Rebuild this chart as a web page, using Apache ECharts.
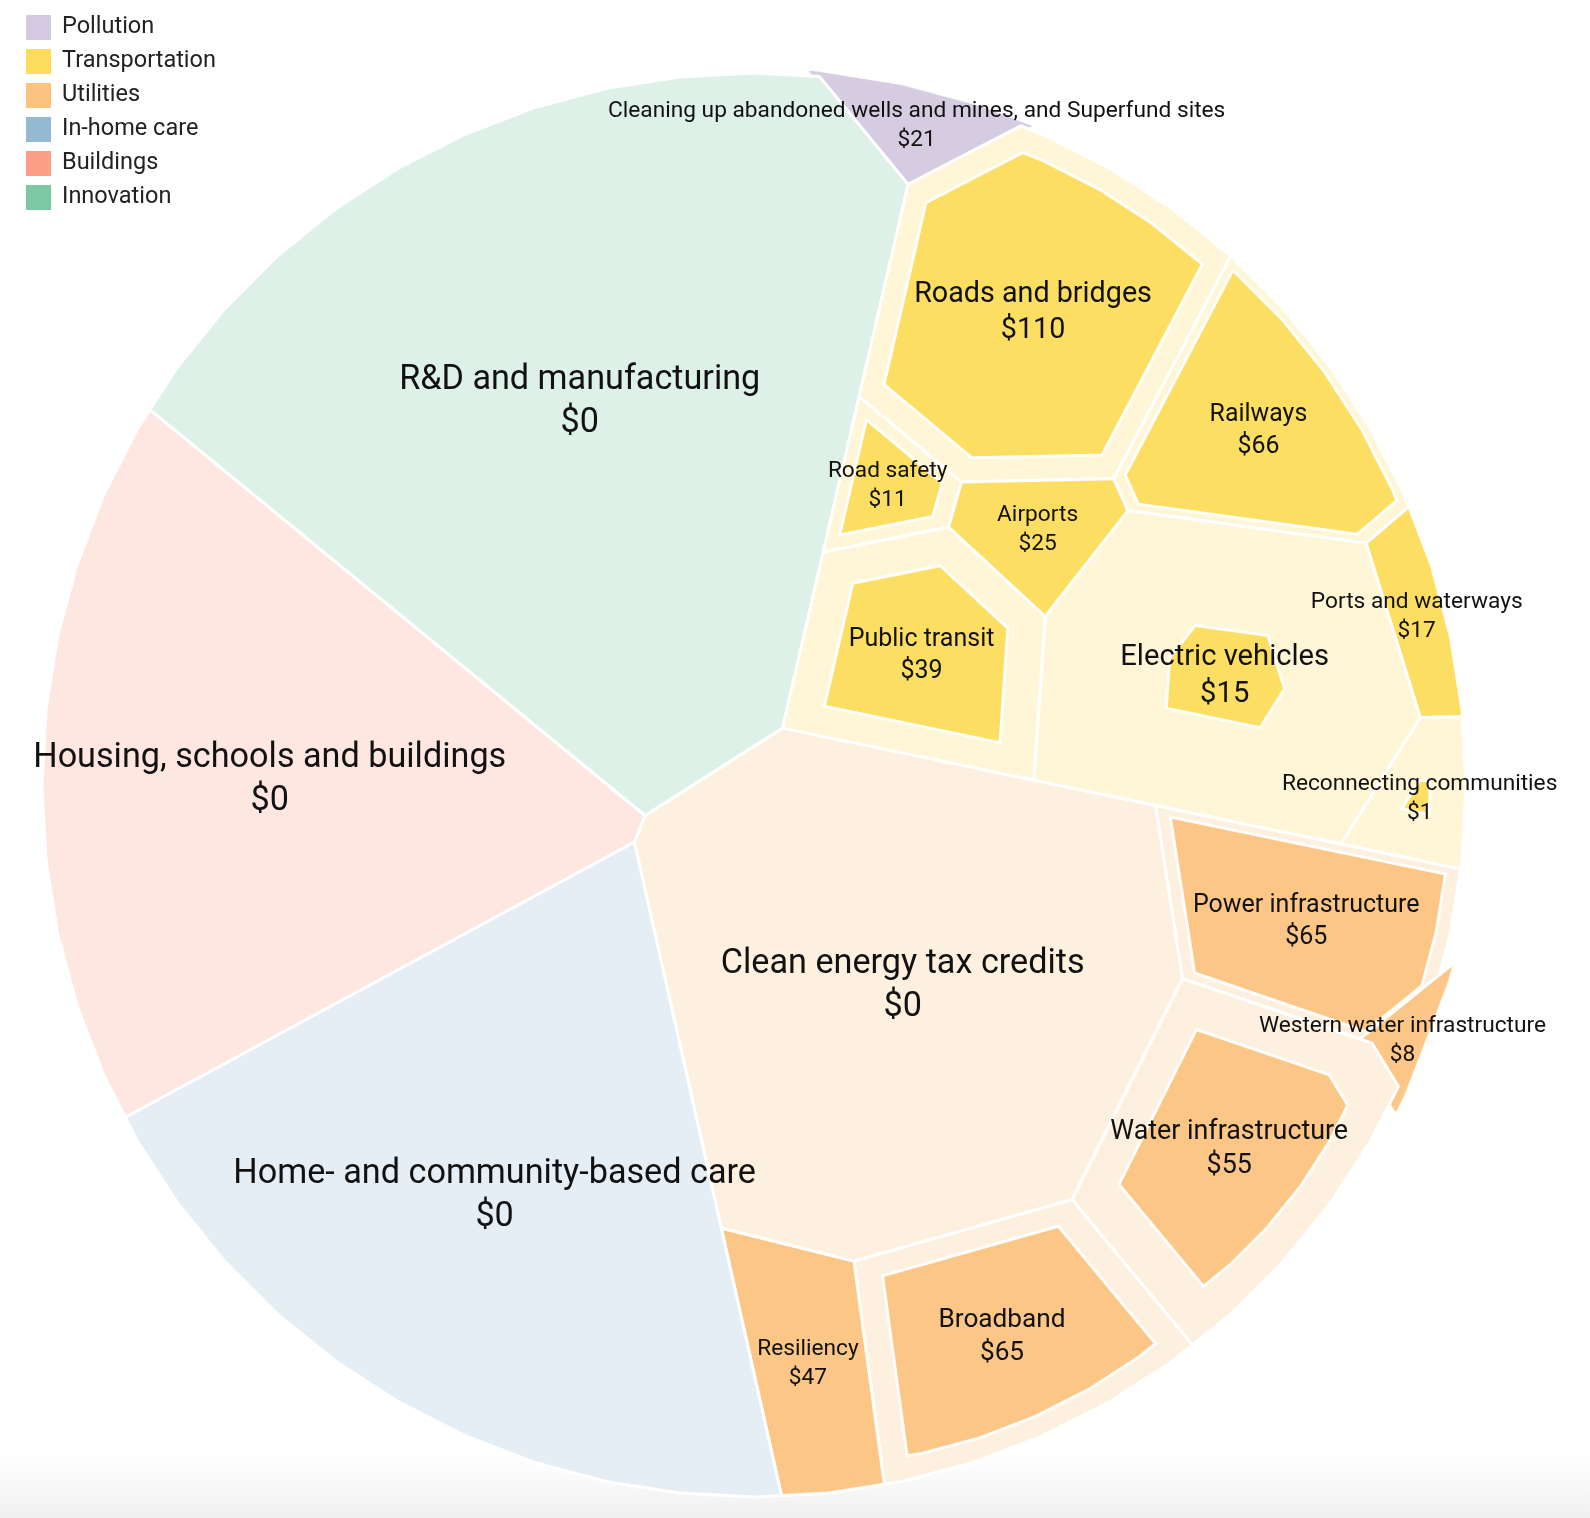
<!DOCTYPE html>
<html><head><meta charset="utf-8">
<script src="https://cdn.jsdelivr.net/npm/echarts@6/dist/echarts.min.js"></script>
<style>html,body{margin:0;padding:0;background:#fff}#c{width:1590px;height:1518px}</style>
</head><body><div id="c"></div>
<script>
// ---------------- data ----------------
const groupNames = ['Pollution','Transportation','Utilities','In-home care','Buildings','Innovation'];
const groupColors = ['#d3c9e0','#fcdc5a','#fcc37f','#93b9d4','#fd9f86','#7cc8a2'];

const pollutionItems = ['Cleaning up abandoned wells and mines, and Superfund sites'];
const pollutionProposed = [16];
const pollutionEnacted = [21];

const transportationItems = ['Roads and bridges','Railways','Ports and waterways','Reconnecting communities','Electric vehicles','Public transit','Airports','Road safety'];
const transportationProposed = [150, 78, 17, 20, 160, 80, 25, 20];
const transportationEnacted = [110, 66, 17, 1, 15, 39, 25, 11];

const utilitiesItems = ['Power infrastructure','Western water infrastructure','Water infrastructure','Broadband','Resiliency','Clean energy tax credits'];
const utilitiesProposed = [80, 3, 112, 100, 47, 360];
const utilitiesEnacted = [65, 8, 55, 65, 47, 0];

const careItems = ['Home- and community-based care'];
const careProposed = [400];
const careEnacted = [0];

const buildingsItems = ['Housing, schools and buildings'];
const buildingsProposed = [380];
const buildingsEnacted = [0];

const innovationItems = ['R&D and manufacturing'];
const innovationProposed = [570];
const innovationEnacted = [0];

const groups = [
  {items: pollutionItems, proposed: pollutionProposed, enacted: pollutionEnacted},
  {items: transportationItems, proposed: transportationProposed, enacted: transportationEnacted},
  {items: utilitiesItems, proposed: utilitiesProposed, enacted: utilitiesEnacted},
  {items: careItems, proposed: careProposed, enacted: careEnacted},
  {items: buildingsItems, proposed: buildingsProposed, enacted: buildingsEnacted},
  {items: innovationItems, proposed: innovationProposed, enacted: innovationEnacted}
];

// ---------------- layout config (power-diagram voronoi treemap) ----------------
const CX = 754, CY = 785, R = 712, NSIDES = 60;
const TOP_START = -76.5;                     // ring start angle for group seeds
const CHILD_RING_OFFSET = [-82, -105, -82, -82, -82, -82]; // child seed ring start, relative to group direction

function circlePoly(){const p=[];for(let k=0;k<NSIDES;k++){const a=k*2*Math.PI/NSIDES;p.push([CX+R*Math.cos(a),CY+R*Math.sin(a)]);}return p;}
function area(P){let a=0;for(let i=0;i<P.length;i++){const p=P[i],q=P[(i+1)%P.length];a+=p[0]*q[1]-q[0]*p[1];}return a/2;}
function centroid(P){let a=0,x=0,y=0;for(let i=0;i<P.length;i++){const p=P[i],q=P[(i+1)%P.length];const c=p[0]*q[1]-q[0]*p[1];a+=c;x+=(p[0]+q[0])*c;y+=(p[1]+q[1])*c;}a/=2;return [x/(6*a),y/(6*a)];}
function clipHalf(P,a,b,c){const out=[];for(let i=0;i<P.length;i++){const p=P[i],q=P[(i+1)%P.length];const fp=a*p[0]+b*p[1]-c,fq=a*q[0]+b*q[1]-c;if(fp<=0)out.push(p);if((fp<=0)!==(fq<=0)){const t=fp/(fp-fq);out.push([p[0]+(q[0]-p[0])*t,p[1]+(q[1]-p[1])*t]);}}return out;}
function powerCells(s,w,clip){return s.map((si,i)=>{let P=clip;for(let j=0;j<s.length;j++){if(j===i)continue;const sj=s[j];const a=2*(sj[0]-si[0]),b=2*(sj[1]-si[1]);const c=sj[0]*sj[0]+sj[1]*sj[1]-si[0]*si[0]-si[1]*si[1]-w[j]+w[i];P=clipHalf(P,a,b,c);if(P.length<3)return [];}return P;});}
function fixOver(s,w){for(let k=0;k<60;k++){let fixed=false;for(let i=0;i<s.length;i++)for(let j=i+1;j<s.length;j++){const h=w[i]>=w[j]?i:j,l=h===i?j:i;const d2=(s[i][0]-s[j][0])**2+(s[i][1]-s[j][1])**2;const over=w[h]-w[l]-d2;if(over>0){w[h]-=over+1e-6;fixed=true;}}if(!fixed)break;}}
function inside(P,pt){let sign=0;for(let i=0;i<P.length;i++){const p=P[i],q=P[(i+1)%P.length];const cr=(q[0]-p[0])*(pt[1]-p[1])-(q[1]-p[1])*(pt[0]-p[0]);if(cr!==0){const sg=Math.sign(cr);if(sign===0)sign=sg;else if(sg!==sign)return false;}}return true;}
function vmap(values,clip,seeds){
  const n=values.length; if(n===1) return [clip.slice()];
  const total=Math.abs(area(clip)), sum=values.reduce((a,b)=>a+b,0);
  const target=values.map(v=>v/sum*total);
  const s=seeds.map(p=>p.slice()); const w=values.map(()=>total/n/2);
  fixOver(s,w);
  for(let it=0;it<800;it++){
    let cells=powerCells(s,w,clip);
    for(let i=0;i<n;i++) if(cells[i].length>=3) s[i]=centroid(cells[i]);
    fixOver(s,w);
    cells=powerCells(s,w,clip);
    let err=0;
    for(let i=0;i<n;i++){const A=cells[i].length>=3?Math.abs(area(cells[i])):0;let r=A>0?target[i]/A:1.5;r=Math.max(0.85,Math.min(1.18,r));w[i]=Math.max(w[i]*r,1e-3);err+=Math.abs(A-target[i]);}
    fixOver(s,w);
    if(it>80 && err/total/2<0.0008) break;
  }
  return powerCells(s,w,clip);
}
function ringSeeds(values,center,rad,startDeg,clip){
  const sum=values.reduce((a,b)=>a+b,0); let acc=0;
  return values.map(v=>{const mid=(startDeg+(acc+v/2)/sum*360)*Math.PI/180;acc+=v;let p=[center[0]+rad*Math.cos(mid),center[1]+rad*Math.sin(mid)];let f=1;while(!inside(clip,p)&&f>0.01){f*=0.8;p=[center[0]+rad*f*Math.cos(mid),center[1]+rad*f*Math.sin(mid)];}return p;});
}

const circle = circlePoly();
const groupTotals = groups.map(g=>g.proposed.reduce((a,b)=>a+b,0));
const topCells = vmap(groupTotals, circle, ringSeeds(groupTotals,[CX,CY],0.5*R,TOP_START,circle));
const leafLayout = groups.map((g,gi)=>{
  const parent = topCells[gi]; const pc = centroid(parent);
  const dir = Math.atan2(pc[1]-CY, pc[0]-CX)*180/Math.PI;
  const rr = 0.5*Math.sqrt(Math.abs(area(parent))/Math.PI);
  const cells = vmap(g.proposed, parent, ringSeeds(g.proposed, pc, rr, dir+CHILD_RING_OFFSET[gi], parent));
  return cells.map((cell,j)=>{
    const c = centroid(cell); const e = g.enacted[j], p = g.proposed[j];
    let inner = null;
    if(e>0){const k=Math.sqrt(e/p); inner = cell.map(q=>[c[0]+(q[0]-c[0])*k, c[1]+(q[1]-c[1])*k]);}
    return {cell, c, inner, name: g.items[j], enacted: e, proposed: p};
  });
});

function lighten(hex,a){const n=parseInt(hex.slice(1),16);const r=n>>16,g=(n>>8)&255,b=n&255;const m=v=>Math.round(255-(255-v)*a);return 'rgb('+m(r)+','+m(g)+','+m(b)+')';}

// ---------------- chart ----------------
const FONT = 'Roboto, "Liberation Sans", sans-serif';
let zc = 0;
const zBase = groups.map((g,gi)=>{const b=zc; zc+=g.items.length*2; return b;});
const series = groups.map((g,gi)=>({
  type:'custom', name: groupNames[gi], coordinateSystem:'none',
  itemStyle:{color: groupColors[gi]},
  data: g.items.map((_,j)=>[j]),
  renderItem: (params, api) => {
    const L = leafLayout[gi][params.dataIndex];
    const z = zBase[gi] + params.dataIndex*2;
    const fs = Math.max(22.7, Math.min(34.2, 15 + 1.12*Math.sqrt(L.proposed)));
    const ch = [{type:'polygon', shape:{points:L.cell}, style:{fill: lighten(groupColors[gi],0.25), stroke:'#fff', lineWidth:3, lineJoin:'round'}, z2: z}];
    if(L.inner) ch.push({type:'polygon', shape:{points:L.inner}, style:{fill: groupColors[gi], stroke:'#fff', lineWidth:3, opacity:0.93}, z2: z+1});
    ch.push({type:'text', z2: 5000, style:{text: L.name+'\n$'+L.enacted, x:L.c[0], y:L.c[1], align:'center', verticalAlign:'middle', fill:'#111', fontSize: fs, fontFamily: FONT, lineHeight: Math.round(fs*1.27)}});
    return {type:'group', children: ch};
  }
}));

const chart = echarts.init(document.getElementById('c'), null, {renderer:'canvas'});
chart.setOption({
  animation:false,
  backgroundColor:'#fff',
  legend:{orient:'vertical', left:21, top:10, itemWidth:25, itemHeight:25, itemGap:9, icon:'rect', selectedMode:false,
    textStyle:{fontSize:23.5, color:'#222', fontFamily:FONT, padding:[0,0,0,6]}, data: groupNames},
  graphic:[{type:'rect', z:-10, silent:true, shape:{x:0,y:1455,width:1590,height:63},
    style:{fill:new echarts.graphic.LinearGradient(0,0,0,1,[{offset:0,color:'rgba(241,241,241,0)'},{offset:1,color:'#f0f0f0'}])}}],
  series
});
</script></body></html>
